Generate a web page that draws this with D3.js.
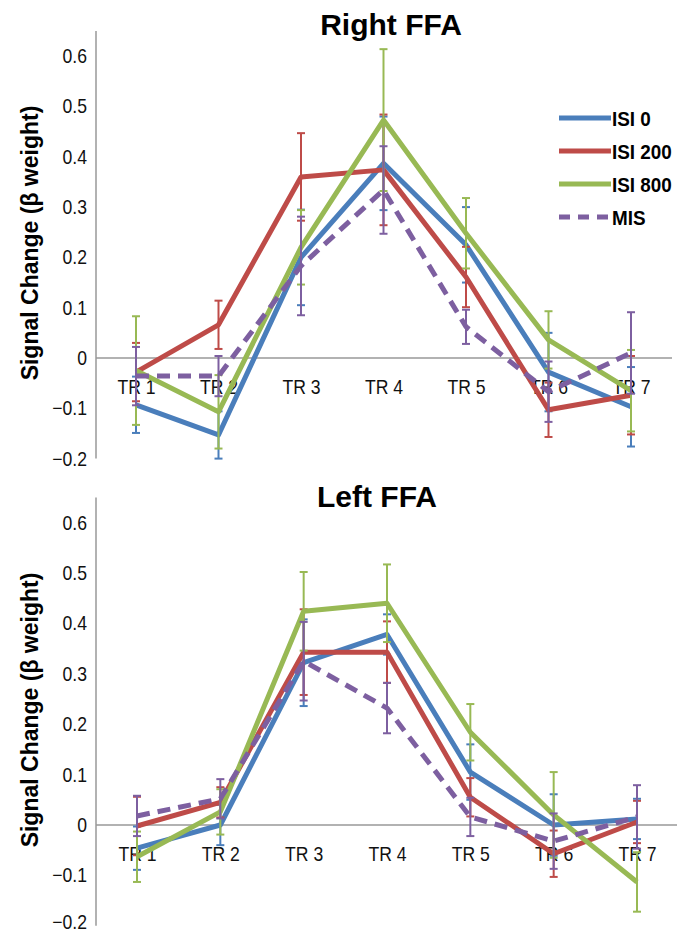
<!DOCTYPE html>
<html>
<head>
<meta charset="utf-8">
<script src="https://cdn.jsdelivr.net/npm/d3@7"></script>
<style>
  body { margin: 0; background: #fff; }
  svg { display: block; }
  text { font-family: "Liberation Sans", Arial, sans-serif; }
</style>
</head>
<body>
<svg id="chart" width="688" height="935"></svg>
<script>
// categories and series
var categories = ["TR 1", "TR 2", "TR 3", "TR 4", "TR 5", "TR 6", "TR 7"];
var seriesNames = ["ISI 0", "ISI 200", "ISI 800", "MIS"];
var seriesColors = ["#4a7ebb", "#be4b48", "#98b954", "#7d5fa0"];
var yTicks = [-0.2, -0.1, 0, 0.1, 0.2, 0.3, 0.4, 0.5, 0.6];

// Right FFA means and error half-widths
var rightIsi0 = [-0.093, -0.153, 0.200, 0.387, 0.225, -0.028, -0.097];
var rightIsi200 = [-0.028, 0.066, 0.360, 0.374, 0.161, -0.103, -0.074];
var rightIsi800 = [-0.025, -0.107, 0.220, 0.473, 0.248, 0.036, -0.065];
var rightMis = [-0.036, -0.036, 0.183, 0.334, 0.062, -0.067, 0.010];
var rightIsi0Err = [0.056, 0.047, 0.095, 0.093, 0.075, 0.078, 0.079];
var rightIsi200Err = [0.058, 0.048, 0.087, 0.110, 0.060, 0.054, 0.078];
var rightIsi800Err = [0.108, 0.073, 0.074, 0.141, 0.070, 0.057, 0.081];
var rightMisErr = [0.058, 0.040, 0.098, 0.087, 0.034, 0.060, 0.081];

// Left FFA means and error half-widths
var leftIsi0 = [-0.046, 0.000, 0.322, 0.378, 0.105, 0.000, 0.012];
var leftIsi200 = [-0.002, 0.045, 0.343, 0.343, 0.055, -0.057, 0.006];
var leftIsi800 = [-0.063, 0.026, 0.424, 0.440, 0.184, 0.020, -0.113];
var leftMis = [0.018, 0.052, 0.325, 0.232, 0.016, -0.032, 0.016];
var leftIsi0Err = [0.043, 0.040, 0.086, 0.040, 0.055, 0.061, 0.040];
var leftIsi200Err = [0.058, 0.030, 0.085, 0.061, 0.038, 0.046, 0.042];
var leftIsi800Err = [0.050, 0.045, 0.078, 0.077, 0.056, 0.085, 0.059];
var leftMisErr = [0.040, 0.039, 0.078, 0.050, 0.038, 0.055, 0.063];

var svg = d3.select("#chart");
var squeeze = 0.88; // the source text is a little condensed

function drawPanel (cfg) {
    var g = svg.append("g");

    var y = d3.scaleLinear()
        .domain([-0.2, 0.6])
        .range([cfg.zeroY + 0.2 * cfg.unit, cfg.zeroY - 0.6 * cfg.unit]);
    var x = d3.scalePoint()
        .domain(categories)
        .range([cfg.x0, cfg.x1]);

    // title
    g.append("text")
        .attr("x", cfg.titleX)
        .attr("y", cfg.titleY)
        .attr("text-anchor", "middle")
        .attr("font-size", 30)
        .attr("font-weight", "bold")
        .text(cfg.title);

    // y axis title
    g.append("text")
        .attr("transform", "translate(30," + (cfg.zeroY - 115) + ") rotate(-90)")
        .attr("text-anchor", "middle")
        .attr("dominant-baseline", "central")
        .attr("font-size", 23)
        .attr("font-weight", "bold")
        .text("Signal Change (β weight)");

    // y axis line
    g.append("line")
        .attr("x1", 96).attr("x2", 96)
        .attr("y1", y(0.65)).attr("y2", y(-0.2))
        .attr("stroke", "#999").attr("stroke-width", 1.5);

    // zero line
    g.append("line")
        .attr("x1", 96).attr("x2", cfg.xEnd)
        .attr("y1", y(0)).attr("y2", y(0))
        .attr("stroke", "#999").attr("stroke-width", 1.5);

    var yAxis = g.append("g")
        .attr("transform", "translate(96,0)")
        .call(d3.axisLeft(y).tickValues(yTicks).tickSize(0).tickPadding(9 / squeeze)
            .tickFormat(function (d) { return d === 0 ? "0" : d3.format(".1f")(d); }));
    yAxis.select(".domain").remove();
    yAxis.selectAll("text")
        .attr("font-size", 20)
        .attr("font-family", "Liberation Sans, Arial, sans-serif")
        .attr("fill", "#111")
        .attr("dy", function (d) { return (cfg.lowLabelUp && d === -0.2) ? "0.12em" : "0.32em"; })
        .attr("transform", "scale(" + squeeze + ",1)");

    var xAxis = g.append("g")
        .attr("transform", "translate(0," + y(0) + ")")
        .call(d3.axisBottom(x).tickSize(0).tickPadding(22));
    xAxis.select(".domain").remove();
    xAxis.selectAll("text")
        .attr("font-size", 20)
        .attr("font-family", "Liberation Sans, Arial, sans-serif")
        .attr("fill", "#111")
        .attr("transform", "scale(" + squeeze + ",1)");

    var line = d3.line()
        .x(function (d, i) { return x(categories[i]); })
        .y(function (d) { return y(d); });

    cfg.means.forEach(function (vals, s) {
        var color = seriesColors[s];
        var errs = cfg.errs[s];
        var eg = g.append("g").attr("class", "errorbars");
        vals.forEach(function (v, i) {
            var cx = x(categories[i]);
            eg.append("line")
                .attr("x1", cx).attr("x2", cx)
                .attr("y1", y(v - errs[i])).attr("y2", y(v + errs[i]))
                .attr("stroke", color).attr("stroke-width", 2);
            [v - errs[i], v + errs[i]].forEach(function (e) {
                eg.append("line")
                    .attr("x1", cx - 4).attr("x2", cx + 4)
                    .attr("y1", y(e)).attr("y2", y(e))
                    .attr("stroke", color).attr("stroke-width", 2);
            });
        });
        g.append("path")
            .datum(vals)
            .attr("fill", "none")
            .attr("stroke", color)
            .attr("stroke-width", 5)
            .attr("stroke-linejoin", "round")
            .attr("stroke-dasharray", s === 3 ? "13,8" : null)
            .attr("d", line);
    });
}

drawPanel({
    title: "Right FFA", titleX: 391, titleY: 35,
    zeroY: 358, unit: 503, x0: 136, x1: 631, xEnd: 672,
    means: [rightIsi0, rightIsi200, rightIsi800, rightMis],
    errs: [rightIsi0Err, rightIsi200Err, rightIsi800Err, rightMisErr]
});

drawPanel({
    title: "Left FFA", titleX: 377, titleY: 507,
    zeroY: 825, unit: 504, x0: 137, x1: 637, xEnd: 677, lowLabelUp: true,
    means: [leftIsi0, leftIsi200, leftIsi800, leftMis],
    errs: [leftIsi0Err, leftIsi200Err, leftIsi800Err, leftMisErr]
});

// legend (top panel only)
var legend = svg.append("g").attr("transform", "translate(559,118)");
seriesNames.forEach(function (name, i) {
    var row = legend.append("g").attr("transform", "translate(0," + (i * 33) + ")");
    row.append("line")
        .attr("x1", 0).attr("x2", 52)
        .attr("stroke", seriesColors[i])
        .attr("stroke-width", 5)
        .attr("stroke-dasharray", i === 3 ? "11,8" : null);
    row.append("text")
        .attr("transform", "translate(53,0) scale(0.9,1)")
        .attr("dy", "0.36em")
        .attr("font-size", 21)
        .attr("font-weight", "bold")
        .text(name);
});
</script>
</body>
</html>
